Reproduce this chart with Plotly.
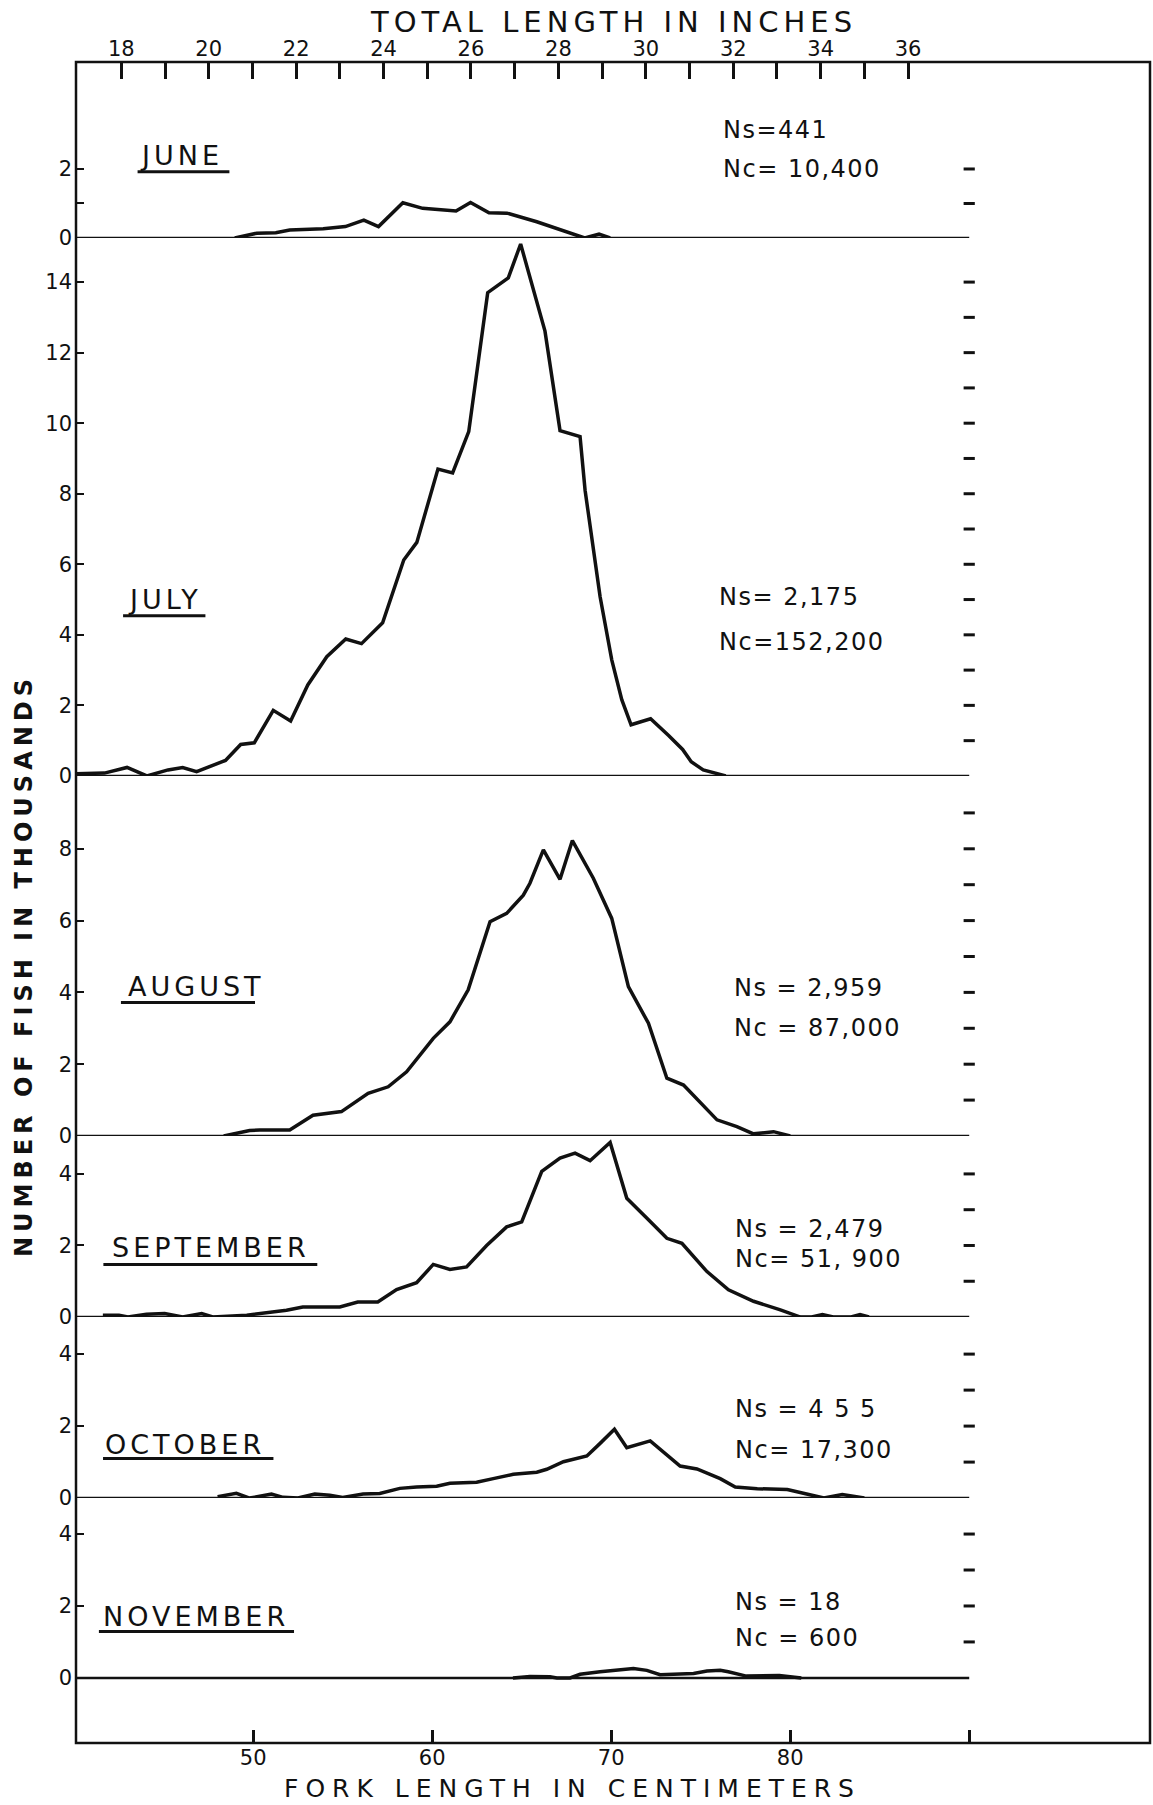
import plotly.graph_objects as go

# ---------------------------------------------------------------
# Length-frequency curves: fork length (cm) vs. number of fish
# (thousands), one panel per month.
# ---------------------------------------------------------------
june_cm = [48.97, 50.20, 51.26, 52.04, 53.91, 55.15, 56.18, 57.00, 58.36, 59.47,
           61.33, 62.14, 63.17, 64.18, 65.84, 67.07, 68.52, 69.32, 69.94]
june_n = [0.00, 0.14, 0.15, 0.23, 0.27, 0.33, 0.52, 0.33, 1.02, 0.86,
          0.78, 1.03, 0.73, 0.72, 0.47, 0.25, 0.00, 0.11, 0.00]

july_cm = [40.04, 41.69, 42.95, 44.06, 45.24, 46.06, 46.84, 48.45, 49.30, 50.06,
           51.12, 52.09, 53.05, 54.11, 55.17, 56.05, 57.23, 58.41, 59.14, 60.32,
           61.14, 62.04, 63.10, 64.25, 64.94, 65.65, 66.30, 67.14, 68.26, 68.54,
           68.92, 69.38, 70.03, 70.59, 71.11, 72.20, 73.22, 73.99, 74.47, 75.14,
           76.40]
july_n = [0.06, 0.08, 0.24, 0.00, 0.17, 0.24, 0.12, 0.44, 0.89, 0.94,
          1.86, 1.56, 2.58, 3.38, 3.88, 3.75, 4.34, 6.12, 6.62, 8.70,
          8.59, 9.76, 13.70, 14.12, 15.08, 13.77, 12.61, 9.79, 9.62, 8.10,
          6.69, 5.08, 3.29, 2.16, 1.45, 1.62, 1.14, 0.75, 0.40, 0.17,
          0.00]

august_cm = [48.35, 49.80, 50.36, 52.04, 53.34, 54.93, 56.42, 57.54, 58.57, 60.06,
             60.99, 62.01, 63.23, 64.16, 65.09, 65.46, 66.21, 67.14, 67.83, 69.00,
             70.03, 70.96, 72.08, 73.11, 74.04, 75.91, 77.02, 77.95, 79.07, 80.00]
august_n = [0.00, 0.15, 0.17, 0.17, 0.58, 0.68, 1.19, 1.37, 1.79, 2.72,
            3.18, 4.07, 5.97, 6.20, 6.71, 7.04, 7.97, 7.15, 8.23, 7.18,
            6.06, 4.16, 3.14, 1.61, 1.42, 0.45, 0.26, 0.06, 0.12, 0.00]

september_cm = [41.60, 42.50, 43.00, 44.04, 45.05, 46.06, 47.12, 47.74, 49.64, 50.92,
                51.86, 52.77, 54.84, 55.84, 56.96, 58.01, 59.13, 60.06, 60.99, 61.92,
                63.04, 64.16, 65.00, 66.12, 67.14, 67.98, 68.82, 69.94, 70.87, 72.18,
                73.11, 73.95, 75.35, 76.55, 77.95, 79.45, 80.57, 81.20, 81.80, 82.40,
                83.40, 83.90, 84.40]
september_n = [0.05, 0.05, 0.00, 0.08, 0.10, 0.00, 0.10, 0.00, 0.05, 0.14,
               0.19, 0.28, 0.28, 0.42, 0.42, 0.77, 0.96, 1.47, 1.33, 1.40,
               2.00, 2.52, 2.66, 4.07, 4.44, 4.58, 4.37, 4.88, 3.32, 2.67,
               2.20, 2.06, 1.27, 0.76, 0.44, 0.20, 0.00, 0.00, 0.07, 0.00,
               0.00, 0.07, 0.00]

october_cm = [48.01, 49.06, 49.80, 51.02, 51.67, 52.50, 53.44, 54.28, 55.00, 56.14,
              57.07, 58.19, 59.13, 60.25, 60.99, 62.48, 63.41, 64.53, 65.84, 66.40,
              67.33, 68.64, 69.38, 70.18, 70.87, 72.18, 73.85, 74.79, 76.09, 76.93,
              78.16, 79.84, 81.88, 82.91, 84.14]
october_n = [0.04, 0.13, 0.00, 0.11, 0.02, 0.00, 0.11, 0.08, 0.02, 0.11,
             0.13, 0.27, 0.31, 0.33, 0.41, 0.44, 0.54, 0.66, 0.72, 0.80,
             1.01, 1.17, 1.52, 1.91, 1.40, 1.59, 0.89, 0.81, 0.54, 0.31,
             0.26, 0.24, 0.00, 0.10, 0.00]

november_cm = [64.51, 65.46, 66.58, 66.97, 67.70, 68.26, 69.38, 70.31, 71.24, 71.99,
               72.73, 74.60, 75.35, 76.09, 76.54, 77.55, 78.60, 79.39, 80.62]
november_n = [0.00, 0.04, 0.03, 0.00, 0.00, 0.10, 0.17, 0.21, 0.26, 0.21,
              0.09, 0.12, 0.19, 0.21, 0.17, 0.05, 0.05, 0.07, 0.00]

months = ["JUNE", "JULY", "AUGUST", "SEPTEMBER", "OCTOBER", "NOVEMBER"]
ns_labels = ["Ns=441", "Ns= 2,175", "Ns = 2,959", "Ns = 2,479", "Ns = 4 5 5", "Ns = 18"]
nc_labels = ["Nc= 10,400", "Nc=152,200", "Nc = 87,000", "Nc= 51, 900", "Nc= 17,300", "Nc = 600"]

series_cm = [june_cm, july_cm, august_cm, september_cm, october_cm, november_cm]
series_n = [june_n, july_n, august_n, september_n, october_n, november_n]

# left-axis labelled ticks and right-edge unit marks for each panel
left_ticks = [[0, 1, 2], list(range(0, 15, 2)), list(range(0, 9, 2)),
              [0, 2, 4], [0, 2, 4], [0, 2, 4]]
left_labels = [["0", "", "2"]] + [[str(v) for v in t] for t in left_ticks[1:]]
unit_marks = [[1, 2], list(range(1, 15)), list(range(1, 10)),
              [1, 2, 3, 4], [1, 2, 3, 4], [1, 2, 3, 4]]

fork_ticks = [50, 60, 70, 80, 90]
fork_labels = ["50", "60", "70", "80", ""]
inch_ticks = list(range(18, 37))
inch_labels = [str(v) if v % 2 == 0 else "" for v in inch_ticks]

# fork length <-> total length conversion used for the top scale
CM_AT_18_IN = 42.63
CM_PER_IN = 2.442
X_RANGE = [40.1, 100.1]
BASE_END = 90.0


def to_inches(cm):
    return 18 + (cm - CM_AT_18_IN) / CM_PER_IN


# panel geometry (paper domains, y ranges) and text placement
panels = [
    dict(domain=[0.8953, 1.0], yrange=[0, 5.1],
         label=(43.56, 2.38), uline=(43.54, 48.67, 1.92), ns=(76.11, 3.14), nc=(76.11, 1.99)),
    dict(domain=[0.5753, 0.8953], yrange=[0, 15.25],
         label=(42.89, 4.99), uline=(42.73, 47.33, 4.54), ns=(75.91, 5.07), nc=(75.91, 3.80)),
    dict(domain=[0.3611, 0.5753], yrange=[0, 10.03],
         label=(42.92, 4.16), uline=(42.61, 50.10, 3.72), ns=(76.73, 4.12), nc=(76.73, 3.00)),
    dict(domain=[0.2534, 0.3611], yrange=[0, 5.06],
         label=(42.00, 1.93), uline=(41.63, 53.58, 1.47), ns=(76.81, 2.46), nc=(76.81, 1.62)),
    dict(domain=[0.1457, 0.2534], yrange=[0, 5.03],
         label=(41.61, 1.50), uline=(41.61, 51.13, 1.10), ns=(76.81, 2.47), nc=(76.81, 1.33)),
    dict(domain=[0.0, 0.1457], yrange=[-1.81, 5.0],
         label=(41.52, 1.72), uline=(41.38, 52.28, 1.29), ns=(76.81, 2.10), nc=(76.81, 1.10)),
]

FONT = "DejaVu Sans"
INK = "#111111"


def spaced(text, px):
    return f'<span style="letter-spacing:{px}px">{text}</span>'


fig = go.Figure()
shapes = []
annotations = []
layout_axes = {}

for i, (p, cm, n) in enumerate(zip(panels, series_cm, series_n)):
    yname = "y" if i == 0 else f"y{i + 1}"
    ykey = "yaxis" if i == 0 else f"yaxis{i + 1}"

    fig.add_trace(go.Scatter(
        x=cm, y=n, xaxis="x", yaxis=yname, mode="lines",
        line=dict(color=INK, width=3.5), hoverinfo="skip", showlegend=False))

    fig.add_trace(go.Scatter(
        x=[BASE_END] * len(unit_marks[i]), y=unit_marks[i], xaxis="x", yaxis=yname,
        mode="markers", marker=dict(symbol="line-ew", size=8,
                                    line=dict(color=INK, width=3)),
        hoverinfo="skip", showlegend=False))

    layout_axes[ykey] = dict(
        domain=p["domain"], range=p["yrange"], anchor="x",
        tickmode="array", tickvals=left_ticks[i], ticktext=left_labels[i],
        ticks="inside", ticklen=8, tickwidth=2, tickcolor=INK,
        ticklabelstandoff=3,
        tickfont=dict(family=FONT, size=21, color=INK),
        showgrid=False, zeroline=False, showline=False, fixedrange=True)

    # zero line of the panel, running to the 90 cm mark
    shapes.append(dict(type="line", xref="x", yref=yname, x0=X_RANGE[0], x1=BASE_END,
                       y0=0, y1=0, line=dict(color=INK, width=2.5)))

    # month name with underline
    lx, ly = p["label"]
    annotations.append(dict(x=lx, y=ly, xref="x", yref=yname, text=spaced(months[i], 4),
                            showarrow=False, xanchor="left", yanchor="middle",
                            font=dict(family=FONT, size=27, color=INK)))
    ux0, ux1, uy = p["uline"]
    shapes.append(dict(type="line", xref="x", yref=yname, x0=ux0, x1=ux1,
                       y0=uy, y1=uy, line=dict(color=INK, width=3)))

    # sample and catch numbers
    for key, txt in (("ns", ns_labels[i]), ("nc", nc_labels[i])):
        tx, ty = p[key]
        annotations.append(dict(x=tx, y=ty, xref="x", yref=yname, text=spaced(txt, 1.5),
                                showarrow=False, xanchor="left", yanchor="middle",
                                font=dict(family=FONT, size=24, color=INK)))

# carrier trace for the total-length (inches) scale along the top
fig.add_trace(go.Scatter(x=inch_ticks, y=[None] * len(inch_ticks), xaxis="x2", yaxis="y",
                         mode="lines", hoverinfo="skip", showlegend=False))

# outer frame
shapes.append(dict(type="rect", xref="paper", yref="paper", x0=0, x1=1, y0=0, y1=1,
                   line=dict(color=INK, width=2.5)))

annotations += [
    dict(x=0.5, y=1.0238, xref="paper", yref="paper", xanchor="center", yanchor="middle",
         text=spaced("TOTAL LENGTH IN INCHES", 5), showarrow=False,
         font=dict(family=FONT, size=29, color=INK)),
    dict(x=0.4625, y=-0.0268, xref="paper", yref="paper", xanchor="center", yanchor="middle",
         text=spaced("FORK LENGTH IN CENTIMETERS", 7), showarrow=False,
         font=dict(family=FONT, size=25, color=INK)),
    dict(x=-0.0484, y=0.4622, xref="paper", yref="paper", xanchor="center", yanchor="middle",
         text=spaced("<b>NUMBER OF FISH IN THOUSANDS</b>", 5), textangle=-90, showarrow=False,
         font=dict(family=FONT, size=24, color=INK)),
]

fig.update_layout(
    width=1153, height=1805,
    margin=dict(l=76, r=3, t=62, b=62),
    paper_bgcolor="white", plot_bgcolor="white",
    showlegend=False,
    xaxis=dict(range=X_RANGE, anchor="y6", tickmode="array", tickvals=fork_ticks,
               ticktext=fork_labels, ticks="inside", ticklen=13, tickwidth=2.5,
               tickcolor=INK, ticklabelstandoff=0,
               tickfont=dict(family=FONT, size=21, color=INK),
               showgrid=False, zeroline=False, showline=False, fixedrange=True),
    xaxis2=dict(range=[to_inches(X_RANGE[0]), to_inches(X_RANGE[1])], overlaying="x",
                side="top", anchor="free", position=1, tickmode="array",
                tickvals=inch_ticks, ticktext=inch_labels, ticks="inside", ticklen=16,
                tickwidth=2.5, tickcolor=INK, ticklabelstandoff=2,
                tickfont=dict(family=FONT, size=21, color=INK),
                showgrid=False, zeroline=False, showline=False, fixedrange=True),
    shapes=shapes,
    annotations=annotations,
    **layout_axes,
)

fig.write_html("out.html")
